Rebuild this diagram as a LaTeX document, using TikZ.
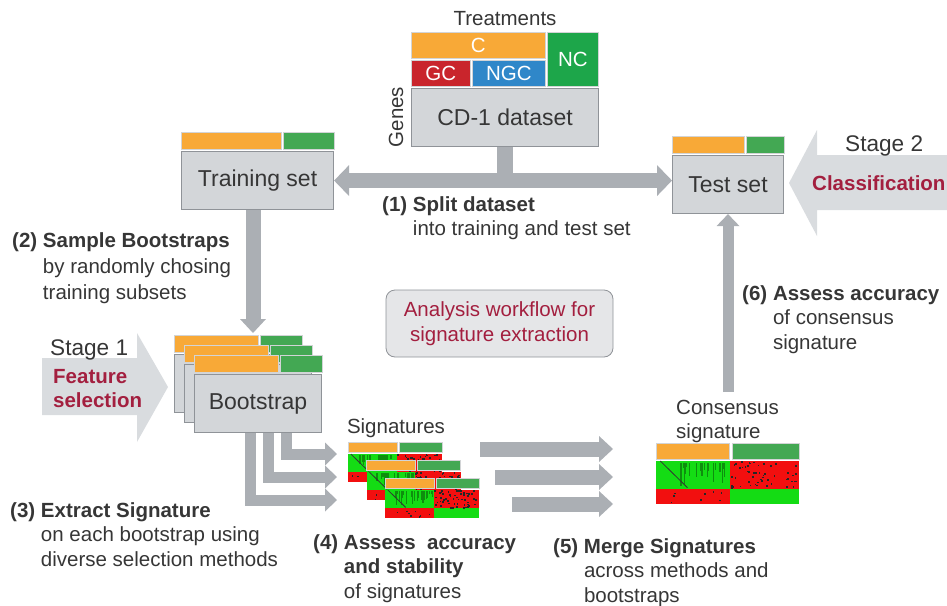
\documentclass[tikz,border=0pt]{standalone}
\usepackage{fontspec}
\setmainfont{Liberation Sans}
\usetikzlibrary{arrows.meta, positioning, calc}

\definecolor{boxgrey}{HTML}{D3D6D9}
\definecolor{boxline}{HTML}{8F9398}
\definecolor{arrowgrey}{HTML}{ABAFB4}
\definecolor{stagegrey}{HTML}{D9DCDF}
\definecolor{txtgrey}{HTML}{363636}
\definecolor{darkred}{HTML}{A31F3F}
\definecolor{cOrange}{HTML}{F8A937}
\definecolor{cGreen}{HTML}{1DA64A}
\definecolor{barGreen}{HTML}{43A853}
\definecolor{gcRed}{HTML}{C9252C}
\definecolor{ngcBlue}{HTML}{2F87C9}
\definecolor{hmGreen}{HTML}{14DC14}
\definecolor{hmDark}{HTML}{0E8E0E}
\definecolor{hmRed}{HTML}{F20F0F}

\newcommand{\bodyfont}{\fontsize{20.5}{24.5}\selectfont}
\newcommand{\boxfont}{\fontsize{23}{27}\selectfont}
\newcommand{\stagefont}{\fontsize{22.6}{27}\selectfont}

% orange/green class bar on top of a box: [height]{node}{orange width}
\newcommand{\classbar}[3][17]{%
  \filldraw[fill=cOrange, draw=white!60!boxline, line width=0.6pt]
    ($(#2.north west)+(0,-2)$) rectangle ($(#2.north west)+(#3,-2-#1)$);
  \filldraw[fill=barGreen, draw=white!60!boxline, line width=0.6pt]
    ($(#2.north west)+(#3+2,-2)$) rectangle ($(#2.north east)+(0,-2-#1)$);}

% small expression heatmap: {x}{y}{width}{height}
\newcommand{\sigmap}[4]{%
  \begin{scope}[shift={(#1,#2)}]
    \fill[hmGreen] (0,0) rectangle (0.52*#3,0.66*#4);
    \fill[hmRed] (0,0.66*#4) rectangle (0.52*#3,#4);
    \fill[hmRed] (0.52*#3,0) rectangle (#3,0.66*#4);
    \fill[hmGreen] (0.52*#3,0.66*#4) rectangle (#3,#4);
    % darker streaks in the green block
    \foreach \k in {1,...,22}{
      \pgfmathsetmacro\sx{0.1*#3+rnd*0.4*#3}
      \fill[hmDark] (\sx,0.05*#4) rectangle ++(1.3,0.5*#4*rnd+2);}
    % black speckles in the red block
    \foreach \k in {1,...,55}{
      \pgfmathsetmacro\sx{0.52*#3+rnd*0.46*#3}
      \pgfmathsetmacro\sy{rnd*0.62*#4}
      \fill[black!85] (\sx,\sy) rectangle ++(1.6,1.6);}
    \foreach \k in {1,...,8}{
      \pgfmathsetmacro\sx{rnd*0.5*#3}
      \fill[black!85] (\sx,0.7*#4+rnd*0.25*#4) rectangle ++(1.5,1.5);}
    \draw[black!80, line width=0.8pt] (0.03*#3,0) -- (0.22*#3,0.62*#4);
  \end{scope}}

\begin{document}
\begin{tikzpicture}[
      x=1pt, y=-1pt,
      box/.style={
        rectangle,
        draw=boxline,
        fill=boxgrey,
        line width=1.1pt,
        font=\boxfont,
        text=txtgrey,
        inner sep=0pt,
        anchor=north west
      },
      treat/.style={
        rectangle,
        draw=white!60!boxline,
        line width=0.6pt,
        text=white,
        font=\bodyfont,
        inner sep=0pt,
        anchor=north west
      },
      txt/.style={
        font=\bodyfont,
        text=txtgrey,
        inner sep=0pt
      },
      note/.style={
        txt,
        anchor=base west
      },
      stem/.style={
        draw=arrowgrey,
        line width=16pt
      },
      splitarrow/.style={
        draw=arrowgrey,
        line width=15pt,
        {Triangle[length=15pt, width=31pt, line width=0pt]}-{Triangle[length=15pt, width=31pt, line width=0pt]}
      },
      midarrow/.style={
        draw=arrowgrey,
        line width=15pt,
        -{Triangle[length=14pt, width=26pt, line width=0pt]}
      },
      smallarrow/.style={
        draw=arrowgrey,
        line width=11pt,
        -{Triangle[length=12pt, width=23pt, line width=0pt]}
      }
      ]
      \useasboundingbox (0,0) rectangle (947,605);
      \pgfmathsetseed{11}

      % Stage arrows in the background
      \fill[stagegrey] (42,358) -- (137,358) -- (137,333) -- (168,387) -- (137,442) -- (137,415) -- (42,415) -- cycle;
      \fill[stagegrey] (947,155) -- (817,155) -- (817,130) -- (789,183) -- (817,236) -- (817,210) -- (947,210) -- cycle;
      \node[note, font=\stagefont] (stage1) at (50,355) {Stage 1};
      \node[note, text=darkred] (featsel) at (53,383)
        {\begin{tabular}[t]{@{}l@{}}\textbf{Feature}\\\textbf{selection}\end{tabular}};
      \node[note, font=\stagefont] (stage2) at (845,151) {Stage 2};
      \node[note, text=darkred] (classif) at (812,190) {\textbf{Classification}};

      % CD-1 dataset with treatment groups
      \node[box, minimum width=187pt, minimum height=58pt] (cd1) at (411,88) {CD-1 dataset};
      \node[treat, fill=cOrange, minimum width=134pt, minimum height=26pt] (cbar) at (411,32) {C};
      \node[treat, fill=cGreen, minimum width=51pt, minimum height=54pt] (ncbar) at (547,32) {NC};
      \node[treat, fill=gcRed, minimum width=59pt, minimum height=26pt] (gcbar) at (411,60) {GC};
      \node[treat, fill=ngcBlue, minimum width=73pt, minimum height=26pt] (ngcbar) at (472,60) {NGC};
      \node[txt] (treatments) at (505,19) {Treatments};
      \node[txt, rotate=90] (genes) at (396,117) {Genes};

      % Training set (left) and test set (right)
      \node[box, minimum width=152pt, minimum height=58pt] (train) at (181,151) {Training set};
      \classbar{train}{100}
      \node[box, minimum width=111pt, minimum height=58pt] (test) at (672,155) {Test set};
      \classbar{test}{72}

      % (1) split
      \coordinate (split) at (cd1.south |- train.east);
      \draw[stem] (cd1.south) -- (split);
      \draw[splitarrow] (train.east) -- (train.east -| test.west);
      \node[note] (note1) at (382,211)
        {\begin{tabular}[t]{@{}l@{\hspace{0.28em}}l@{}}\textbf{(1)} & \textbf{Split dataset}\\ & into training and test set\end{tabular}};

      % (2) bootstraps
      \foreach \i in {0,1,2} {
        \node[box, minimum width=127pt, minimum height=58pt] (boot\i) at (174+10*\i,354+10*\i) {\ifnum\i=2 Bootstrap\fi};
        \classbar{boot\i}{84}
      }
      \coordinate (bootin) at (253,333);
      \draw[midarrow] (train.south -| bootin) -- (bootin);
      \node[note] (note2) at (12,247)
        {\begin{tabular}[t]{@{}l@{\hspace{0.28em}}l@{}}\textbf{(2)} & \textbf{Sample Bootstraps}\\[1.5pt] & by randomly chosing\\[1.5pt] & training subsets\end{tabular}};

      % (3) signatures per bootstrap
      \node[txt] (siglabel) at (396,428) {Signatures};
      \foreach \i in {0,1,2} {
        \coordinate (sig\i) at (348+18.5*\i,442+18*\i);
        \filldraw[fill=cOrange, draw=white!60!boxline, line width=0.5pt] (sig\i) rectangle ++(49,10);
        \filldraw[fill=barGreen, draw=white!60!boxline, line width=0.5pt] ($(sig\i)+(51,0)$) rectangle ++(43,10);
        \sigmap{348+18.5*\i}{454+18*\i}{94}{28}
      }
      \coordinate (l1) at (337,454);
      \coordinate (l2) at (337,477);
      \coordinate (l3) at (337,500);
      \draw[smallarrow] ([xshift=92pt]boot2.south west) |- (l1);
      \draw[smallarrow] ([xshift=74pt]boot2.south west) |- (l2);
      \draw[smallarrow] ([xshift=56pt]boot2.south west) |- (l3);
      \node[note] (note3) at (10,517)
        {\begin{tabular}[t]{@{}l@{\hspace{0.28em}}l@{}}\textbf{(3)} & \textbf{Extract Signature}\\ & on each bootstrap using\\ & diverse selection methods\end{tabular}};
      \node[note] (note4) at (313,549)
        {\begin{tabular}[t]{@{}l@{\hspace{0.28em}}l@{}}\textbf{(4)} & \textbf{Assess\ \ accuracy}\\ & \textbf{and stability}\\ & of signatures\end{tabular}};

      % (5) merge into consensus
      \foreach \n/\x/\y in {1/480/449, 2/495/477, 3/512/504} {
        \coordinate (mfrom\n) at (\x,\y);
        \coordinate (mto\n) at (613,\y);
        \draw[midarrow] (mfrom\n) -- (mto\n);
      }
      \node[note] (conslabel) at (676,414)
        {\begin{tabular}[t]{@{}l@{}}Consensus\\signature\end{tabular}};
      \coordinate (cons) at (656,443);
      \filldraw[fill=cOrange, draw=white!60!boxline, line width=0.5pt] (cons) rectangle ++(73,16);
      \filldraw[fill=barGreen, draw=white!60!boxline, line width=0.5pt] ($(cons)+(76,0)$) rectangle ++(67,16);
      \sigmap{656}{461}{143}{43}
      \node[note] (note5) at (553,553)
        {\begin{tabular}[t]{@{}l@{\hspace{0.28em}}l@{}}\textbf{(5)} & \textbf{Merge Signatures}\\ & across methods and\\ & bootstraps\end{tabular}};

      % (6) back to the test set
      \coordinate (consout) at (728,392);
      \draw[smallarrow] (consout) -- (consout |- test.south);
      \node[note] (note6) at (742,300)
        {\begin{tabular}[t]{@{}l@{\hspace{0.28em}}l@{}}\textbf{(6)} & \textbf{Assess accuracy}\\ & of consensus\\ & signature\end{tabular}};

      % workflow title
      \node[rectangle, rounded corners=9pt, draw=boxline, fill=boxgrey!60, line width=0.8pt,
            minimum width=227pt, minimum height=67pt, align=center, font=\bodyfont, text=darkred]
            (title) at (499.5,323.5) {Analysis workflow for\\signature extraction};

\end{tikzpicture}
\end{document}
